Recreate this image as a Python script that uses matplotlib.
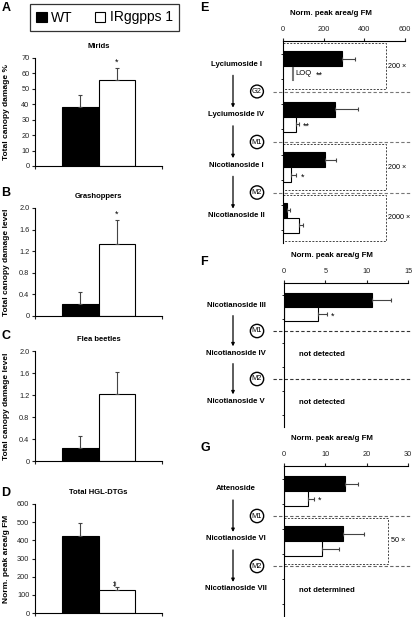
import matplotlib
matplotlib.use('Agg')
import matplotlib.pyplot as plt
import matplotlib.transforms as mtransforms
from matplotlib.patches import Rectangle
import numpy as np

plt.rcParams['font.family'] = ['Liberation Sans', 'DejaVu Sans']

# ---- data ----
groups = ['WT', 'IRggpps 1']

mirids_mean = [38, 56]
mirids_err = [8, 7.5]
grass_mean = [0.22, 1.33]
grass_err = [0.22, 0.44]
flea_mean = [0.23, 1.22]
flea_err = [0.22, 0.40]
hgl_mean = [424, 125]
hgl_err = [73, 18]

names_E = ['Lyciumoside I', 'Lyciumoside IV', 'Nicotianoside I', 'Nicotianoside II']
wt_E = [290, 255, 207, 22]
wt_E_err = [64, 115, 54, 13]
ir_E = [np.nan, 64, 41, 77]
ir_E_err = [np.nan, 15, 25, 21]
steps_E = ['G2', 'M1', 'M2']
stars_E = ['**', '**', '*', '']
scale_E = {0: '200 ×', 2: '200 ×', 3: '2000 ×'}

names_F = ['Nicotianoside III', 'Nicotianoside IV', 'Nicotianoside V']
wt_F = [10.7, np.nan, np.nan]
wt_F_err = [2.3, np.nan, np.nan]
ir_F = [4.15, np.nan, np.nan]
ir_F_err = [1.0, np.nan, np.nan]
steps_F = ['M1', 'M2']
stars_F = ['*', '', '']
notes_F = {1: 'not detected', 2: 'not detected'}

names_G = ['Attenoside', 'Nicotianoside VI', 'Nicotianoside VII']
wt_G = [14.8, 14.3, np.nan]
wt_G_err = [3.1, 5.1, np.nan]
ir_G = [5.8, 9.2, np.nan]
ir_G_err = [1.5, 4.1, np.nan]
steps_G = ['M1', 'M2']
stars_G = ['*', '', '']
scale_G = {1: '50 ×'}
notes_G = {2: 'not determined'}

W, H = 415, 617
fig = plt.figure(figsize=(W / 100, H / 100), dpi=100)


def px_axes(x0, y0, x1, y1):
    return fig.add_axes([x0 / W, 1 - y1 / H, (x1 - x0) / W, (y1 - y0) / H])


def ftext(px, py, s, **kw):
    fig.text(px / W, 1 - py / H, s, **kw)


# ---- legend box ----
leg = fig.legend(handles=[Rectangle((0, 0), 1, 1, fc='black', ec='black', lw=0.8),
                          Rectangle((0, 0), 1, 1, fc='white', ec='black', lw=0.8)],
                 labels=groups, loc='center', bbox_to_anchor=(104.5 / W, 1 - 17.5 / H),
                 ncol=2, fontsize=10, frameon=True, fancybox=False, handlelength=0.75,
                 handleheight=0.75, handletextpad=0.3, columnspacing=1.6,
                 borderpad=0.5, borderaxespad=0, edgecolor='black')
leg.get_frame().set_linewidth(0.9)


# ---- left bar panels ----
def bar_panel(box, means, errs, ymax, step, fmt, title, ylabel, letter, letter_y,
              star=None, star_rot=0):
    ax = px_axes(*box)
    x = np.arange(2)
    ax.bar(x, means, width=1.0, color=['black', 'white'], edgecolor='black', linewidth=0.8, zorder=2)
    ax.errorbar(x, means, yerr=[np.zeros(2), errs], fmt='none', ecolor='#444444',
                elinewidth=0.8, capsize=1.3, capthick=0.8, zorder=3)
    ax.set_xlim(-1.24, 2.24)
    ax.set_ylim(0, ymax)
    ticks = np.arange(0, ymax + step / 2, step)
    ax.set_yticks(ticks)
    ax.set_yticklabels([fmt(t) for t in ticks])
    ax.set_xticks([-1.24, 2.24])
    ax.set_xticklabels([])
    for s in ['top', 'right']:
        ax.spines[s].set_visible(False)
    for s in ['left', 'bottom']:
        ax.spines[s].set_linewidth(0.8)
    ax.tick_params(length=2.5, width=0.8, labelsize=5.3, pad=1.5, colors='#222222')
    ax.set_title(title, fontsize=5.5, fontweight='bold', pad=7)
    ax.set_ylabel(ylabel, fontsize=6, fontweight='bold', labelpad=1)
    ax.yaxis.set_label_coords(-0.2, 0.5)
    if star:
        ax.annotate(star, (1, means[1] + errs[1]), xytext=(0, 1), textcoords='offset points',
                    ha='center', va='bottom', fontsize=6.5, rotation=star_rot)
    ftext(1.5, letter_y, letter, fontsize=9, fontweight='bold', va='top')
    return ax


bar_panel((35, 58, 162, 166), mirids_mean, mirids_err, 70, 10, lambda t: '%d' % t,
          'Mirids', 'Total canopy damage %', 'A', 2, '*')
bar_panel((35, 208, 162, 316), grass_mean, grass_err, 2.0, 0.4,
          lambda t: '0' if t == 0 else '%.1f' % t,
          'Grashoppers', 'Total canopy damage level', 'B', 187, '*')
bar_panel((35, 351, 162, 461), flea_mean, flea_err, 2.0, 0.4,
          lambda t: '0' if t == 0 else '%.1f' % t,
          'Flea beetles', 'Total canopy damage level', 'C', 330)
bar_panel((35, 504, 162, 613), hgl_mean, hgl_err, 600, 100, lambda t: '%d' % t,
          'Total HGL-DTGs', 'Norm. peak area/g FM', 'D', 487, '**', 90)


# ---- right pathway panels ----
def path_panel(box, xmax, step, names, wt, wt_err, ir, ir_err, steps, stars, letter, letter_y,
               scales=None, box_right=None, notes=None, line_col='#555555'):
    ax = px_axes(*box)
    n = len(names)
    y = np.arange(n)
    bh = 0.3
    ax.set_ylim(n - 0.5, -0.5)
    ax.set_xlim(0, xmax)
    wt = np.array(wt, float)
    ir = np.array(ir, float)
    ok = ~np.isnan(wt)
    ax.barh(y[ok] - bh / 2, wt[ok], height=bh, color='black', edgecolor='black', lw=0.8, zorder=2)
    ax.errorbar(wt[ok], y[ok] - bh / 2, xerr=[np.zeros(ok.sum()), np.array(wt_err)[ok]],
                fmt='none', ecolor='#444444', elinewidth=0.8, capsize=1.5, capthick=0.8, zorder=3)
    ok = ~np.isnan(ir)
    ax.barh(y[ok] + bh / 2, ir[ok], height=bh, color='white', edgecolor='black', lw=0.8, zorder=2)
    ax.errorbar(ir[ok], y[ok] + bh / 2, xerr=[np.zeros(ok.sum()), np.array(ir_err)[ok]],
                fmt='none', ecolor='#444444', elinewidth=0.8, capsize=1.5, capthick=0.8, zorder=3)
    for i in range(n):
        if stars[i] and not np.isnan(ir[i]):
            ax.annotate(stars[i], (ir[i] + ir_err[i], i + bh / 2), xytext=(3, -1.5),
                        textcoords='offset points', ha='left', va='center', fontsize=6.5)

    ax.xaxis.tick_top()
    ax.set_xticks(np.arange(0, xmax + step / 2, step))
    ax.set_yticks(np.concatenate([y - 0.25, y + 0.25]))
    ax.set_yticklabels([])
    for s in ['bottom', 'right']:
        ax.spines[s].set_visible(False)
    for s in ['left', 'top']:
        ax.spines[s].set_linewidth(0.8)
    ax.tick_params(axis='x', length=2.5, width=0.8, labelsize=5.3, pad=3.5, colors='#222222')
    ax.tick_params(axis='y', length=1.5, width=0.6)
    ax.set_title('Norm. peak area/g FM', fontsize=5.7, fontweight='bold', pad=19, x=0.39)

    tr = mtransforms.blended_transform_factory(fig.transFigure, ax.transData)
    for i, nm in enumerate(names):
        ax.text(236 / W, i - 0.04, nm, transform=tr, ha='center', va='center',
                fontsize=5.6, fontweight='bold')
    for i, st in enumerate(steps):
        yb = i + 0.5
        ax.plot([273 / W, 410 / W], [yb, yb], transform=tr, ls=(0, (3, 2)), color=line_col,
                lw=0.8, clip_on=False, zorder=1)
        ax.text(257 / W, yb, st, transform=tr, ha='center', va='center', fontsize=5.3,
                bbox=dict(boxstyle='circle,pad=0.2', fc='white', ec='black', lw=1.0))
        ax.annotate('', xy=(233 / W, i + 0.82), xytext=(233 / W, i + 0.18), xycoords=tr,
                    textcoords=tr, arrowprops=dict(arrowstyle='-|>', color='black', lw=0.9,
                                                   mutation_scale=4.5, shrinkA=0, shrinkB=0))
    if scales:
        for i, lab in scales.items():
            y0 = max(i - 0.5 + 0.04, -0.5)
            y1 = min(i + 0.5 - 0.04, n - 0.5)
            ax.add_patch(Rectangle((0, y0), box_right, y1 - y0, fill=False, ec='#444444',
                                   ls=(0, (2, 1.5)), lw=0.7, clip_on=False, zorder=1))
            ax.annotate(lab, (box_right, i), xytext=(2, 0), textcoords='offset points',
                        ha='left', va='center', fontsize=5.2)
    if notes:
        for i, lab in notes.items():
            ax.annotate(lab, (0, i), xytext=(10.5, 0), textcoords='offset points',
                        ha='left', va='center', fontsize=5.6, fontweight='bold')
    ftext(200, letter_y, letter, fontsize=9, fontweight='bold', va='top')
    return ax


axE = path_panel((283, 41, 405, 243), 600, 200, names_E, wt_E, wt_E_err, ir_E, ir_E_err,
                 steps_E, stars_E, 'E', 2, scales=scale_E, box_right=505, line_col='#777777')
# LOQ marker for Lyciumoside I in the IR line
axE.plot([50, 50], [0.03, 0.27], color='#777777', lw=1.5, zorder=3)
axE.text(60, 0.15, 'LOQ', fontsize=5.5, ha='left', va='center')
axE.text(160, 0.17, stars_E[0], fontsize=6.5, ha='left', va='center')

path_panel((284, 283, 408, 427), 15, 5, names_F, wt_F, wt_F_err, ir_F, ir_F_err,
           steps_F, stars_F, 'F', 256, notes=notes_F, line_col='#333333')
path_panel((284, 466, 408, 616), 30, 10, names_G, wt_G, wt_G_err, ir_G, ir_G_err,
           steps_G, stars_G, 'G', 442, scales=scale_G, box_right=25.2, notes=notes_G,
           line_col='#666666')

fig.savefig('out.png', dpi=100)
